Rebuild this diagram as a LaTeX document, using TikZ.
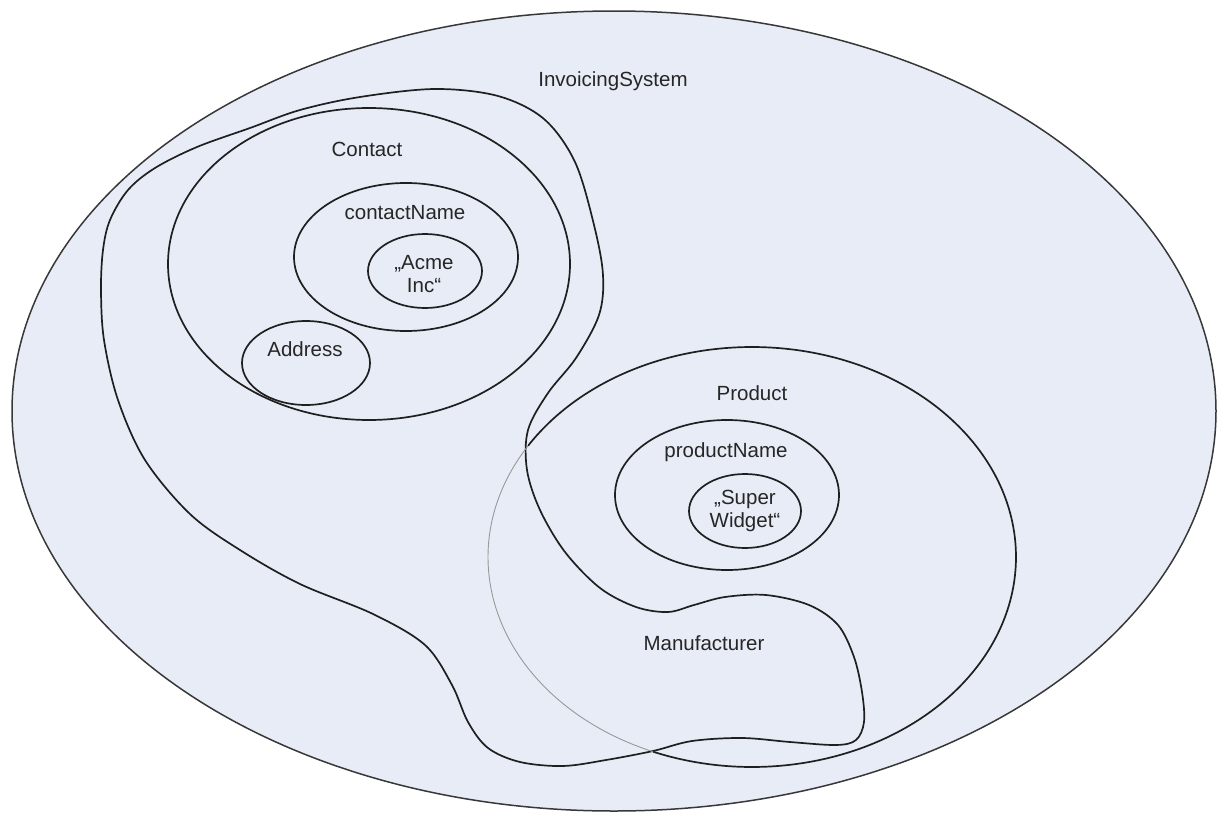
\documentclass[tikz,border=0pt]{standalone}
\usepackage{fontspec}
\setmainfont{Liberation Sans}
\begin{document}
\begin{tikzpicture}[x=1pt,y=-1pt,
  setline/.style={draw=black!88, line width=1.7pt},
  outerline/.style={draw=black!78, line width=1.5pt, fill=areafill},
  faintline/.style={draw=black!40, line width=0.9pt},
  lbl/.style={text=black!85, font=\fontsize{20.5}{22.5}\selectfont, inner sep=0pt, align=center}]
\definecolor{areafill}{HTML}{E8ECF6}
\useasboundingbox (0,0) rectangle (1219,814);

% universe of discourse
\draw[outerline] (614,411) ellipse [x radius=602, y radius=400];

% Manufacturer region (free-form blob)
\draw[setline] plot[smooth cycle, tension=0.55] coordinates {
  (110,220) (128,190) (155,168) (197,147) (250,128) (300,110) (360,97)
  (435,89) (498,96) (544,119) (575,162) (594,225) (603,275) (599,315)
  (576,358) (548,393) (528,430) (527,470) (540,510) (565,552) (600,588)
  (636,607) (668,612) (694,605) (725,597) (766,595) (809,605) (838,625)
  (854,657) (862,692) (864,722) (856,740) (836,745) (790,742) (742,738)
  (692,741) (653,751) (606,760) (563,766) (520,762) (488,748) (468,722)
  (452,685) (425,645) (373,614) (300,584) (240,550) (190,514) (145,460)
  (118,400) (104,340) (101,290) (103,250)};

% Contact and its parts
\draw[setline] (369,264) ellipse [x radius=201, y radius=156];
\draw[setline] (406,257) ellipse [x radius=112, y radius=74];
\draw[setline] (425,271) ellipse [x radius=57, y radius=37];
\draw[setline] (306,363) ellipse [x radius=64, y radius=42];

% Product: faint arc inside the Manufacturer region, solid elsewhere
\draw[faintline] plot[domain=112:212, samples=60, smooth]
  ({752+264*cos(\x)}, {557+210*sin(\x)});
\draw[setline] plot[domain=212:472, samples=140, smooth]
  ({752+264*cos(\x)}, {557+210*sin(\x)});
\draw[setline] (727,495) ellipse [x radius=112, y radius=75];
\draw[setline] (745,511) ellipse [x radius=56, y radius=37];

% labels
\node[lbl] (invsys) at (613,81) {InvoicingSystem};
\node[lbl] (contact) at (367,149) {Contact};
\node[lbl] (cname) at (405,213) {contactName};
\node[lbl] (acme) at (424,274) {„Acme\\Inc“};
\node[lbl] (address) at (305,349) {Address};
\node[lbl] (product) at (752,393) {Product};
\node[lbl] (pname) at (726,452) {productName};
\node[lbl] (widget) at (745,511) {„Super\\Widget“};
\node[lbl] (manuf) at (704,643) {Manufacturer};
\end{tikzpicture}
\end{document}
